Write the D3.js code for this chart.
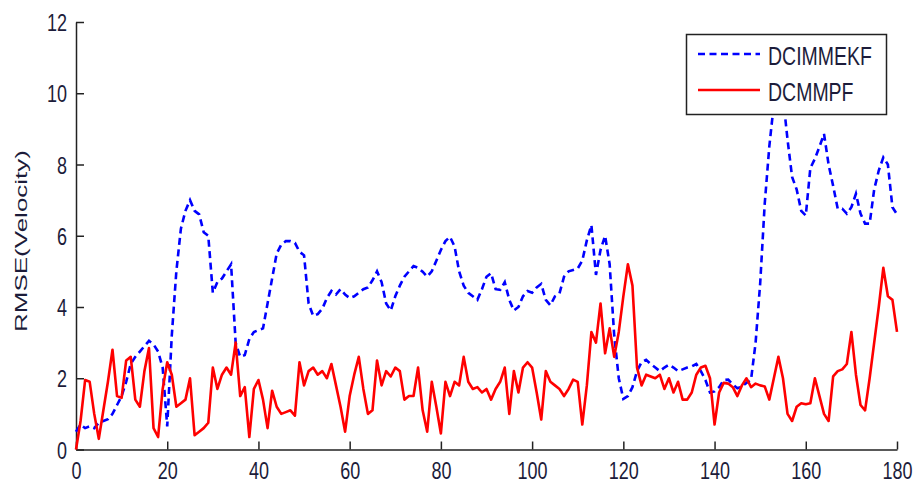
<!DOCTYPE html>
<html>
<head>
<meta charset="utf-8">
<script src="https://cdn.jsdelivr.net/npm/d3@7"></script>
<style>
  body { margin: 0; background: #fff; }
  .axis path, .axis line { stroke: #222; stroke-width: 1.5px; }
  .axis text { font-family: "Liberation Sans", Arial, sans-serif; font-size: 18px; fill: #1c1c3a; }
</style>
</head>
<body>
<div id="chart-container"></div>
<script>
// chart size, same as the window
const svgWidth = 916;
const svgHeight = 491;
// plot box edges
const plotLeft = 76, plotRight = 897, plotTop = 22, plotBottom = 449.5;

// series names, in legend order
const seriesNames = ["DCIMMEKF", "DCMMPF"];
const xTicks = [0, 20, 40, 60, 80, 100, 120, 140, 160, 180];
const yTicks = [0, 2, 4, 6, 8, 10, 12];

// time steps 0..180
const steps = d3.range(0, 181);

// RMSE of velocity, DCIMMEKF (blue dashed), one value per step
const dcimmekf = [
  0.5, 0.7, 0.6, 0.65, 0.6, 0.75, 0.8, 0.85, 1.0, 1.25, 1.5,
  1.9, 2.4, 2.6, 2.75, 2.9, 3.05, 2.95, 2.75, 2.3, 0.65,
  3.2, 5.0, 6.2, 6.7, 7.0, 6.7, 6.6, 6.1, 6.0, 4.4,
  4.7, 4.8, 5.0, 5.2, 3.0, 2.6, 2.65, 3.1, 3.3, 3.35,
  3.4, 4.1, 4.8, 5.5, 5.75, 5.85, 5.85, 5.8, 5.55, 5.45,
  4.1, 3.75, 3.8, 3.95, 4.25, 4.45, 4.35, 4.5, 4.35, 4.25,
  4.3, 4.4, 4.5, 4.55, 4.75, 5.0, 4.7, 4.1, 3.9, 4.3,
  4.6, 4.85, 5.0, 5.15, 5.1, 4.99, 4.85, 5.0, 5.3, 5.6,
  5.85, 5.97, 5.7, 5.0, 4.6, 4.4, 4.3, 4.2, 4.5, 4.85,
  4.95, 4.5, 4.48, 4.7, 4.2, 3.9, 4.0, 4.3, 4.45, 4.4,
  4.55, 4.65, 4.2, 4.05, 4.3, 4.38, 4.85, 5.0, 5.04, 5.08,
  5.3, 5.87, 6.3, 4.9, 5.6, 6.0, 5.2, 3.2, 2.0, 1.42,
  1.5, 1.75, 2.2, 2.45, 2.52, 2.4, 2.3, 2.2, 2.3, 2.38,
  2.3, 2.2, 2.25, 2.3, 2.33, 2.4, 2.2, 1.95, 1.6, 1.63,
  1.75, 1.95, 1.96, 1.82, 1.72, 1.77, 1.87, 1.96, 3.0, 4.66,
  6.9, 8.5, 9.7, 10.3, 9.9, 8.7, 7.65, 7.3, 6.7, 6.57,
  7.9, 8.16, 8.5, 8.86, 8.0, 7.4, 6.76, 6.76, 6.62, 6.8,
  7.18, 6.62, 6.34, 6.34, 7.3, 7.83, 8.2, 8.0, 6.8, 6.6
];

// RMSE of velocity, DCMMPF (red solid)
const dcmmpf = [
  0.0, 0.8, 1.95, 1.9, 1.0, 0.3, 1.1, 1.9, 2.8, 1.5, 1.45,
  2.5, 2.6, 1.4, 1.2, 2.2, 2.85, 0.6, 0.35, 1.7, 2.45,
  2.1, 1.2, 1.3, 1.4, 2.0, 0.4, 0.5, 0.6, 0.75, 2.3,
  1.7, 2.1, 2.3, 2.1, 3.0, 1.5, 1.75, 0.35, 1.7, 1.95,
  1.4, 0.6, 1.65, 1.2, 1.0, 1.05, 1.1, 0.95, 2.45, 1.8,
  2.2, 2.3, 2.1, 2.2, 2.0, 2.4, 1.8, 1.2, 0.5, 1.5,
  2.1, 2.6, 1.7, 1.0, 1.1, 2.5, 1.8, 2.2, 2.05, 2.3,
  2.2, 1.4, 1.5, 1.5, 2.3, 1.1, 0.5, 1.9, 1.2, 0.45,
  1.9, 1.5, 1.9, 1.8, 2.6, 1.9, 1.7, 1.75, 1.6, 1.7,
  1.4, 1.7, 1.9, 2.3, 1.0, 2.2, 1.6, 2.3, 2.45, 2.3,
  1.6, 0.84, 2.2, 1.9, 1.8, 1.7, 1.5, 1.7, 1.96, 1.9,
  0.7, 1.8, 3.3, 3.0, 4.1, 2.7, 3.4, 2.6, 3.3, 4.3,
  5.2, 4.6, 2.3, 1.8, 2.1, 2.05, 2.0, 2.1, 1.7, 2.0,
  1.6, 1.9, 1.4, 1.4, 1.6, 2.1, 2.3, 2.35, 2.0, 0.7,
  1.6, 1.87, 1.85, 1.75, 1.5, 1.8, 2.0, 1.75, 1.85, 1.8,
  1.77, 1.4, 2.0, 2.6, 2.0, 1.0, 0.8, 1.2, 1.3, 1.27,
  1.3, 2.0, 1.5, 1.0, 0.8, 2.05, 2.2, 2.25, 2.4, 3.3,
  2.1, 1.25, 1.1, 2.0, 3.0, 4.0, 5.1, 4.3, 4.2, 3.3
];

// the original picture is a bit stretched up and down, so text gets squashed the same way
const textStretch = 1.35;

const svg = d3.select("#chart-container")
  .append("svg")
  .attr("width", svgWidth)
  .attr("height", svgHeight);

const x = d3.scaleLinear().domain([0, 180]).range([plotLeft, plotRight]);
const y = d3.scaleLinear().domain([0, 12]).range([plotBottom, plotTop]);

// axes, ticks point inwards like matlab
const xAxis = svg.append("g")
  .attr("class", "axis axis-x")
  .attr("transform", `translate(0, ${plotBottom})`)
  .call(d3.axisBottom(x).tickValues(xTicks).tickSizeInner(-8).tickSizeOuter(0));

const yAxis = svg.append("g")
  .attr("class", "axis axis-y")
  .attr("transform", `translate(${plotLeft}, 0)`)
  .call(d3.axisLeft(y).tickValues(yTicks).tickSizeInner(-8).tickSizeOuter(0).tickPadding(9));

// move tick labels by hand so the stretch lands them in the right spot
xAxis.selectAll("text")
  .attr("dy", null)
  .attr("y", 29.5 / textStretch)
  .attr("transform", `scale(1, ${textStretch})`);

yAxis.selectAll("text")
  .attr("dy", null)
  .attr("y", 8.5 / textStretch)
  .attr("transform", `scale(1, ${textStretch})`);

// the lines, blue first so red sits on top
const line = d3.line()
  .x((d, i) => x(steps[i]))
  .y(d => y(d));

svg.append("path")
  .datum(dcimmekf)
  .attr("fill", "none")
  .attr("stroke", "#0000ff")
  .attr("stroke-width", 2.6)
  .attr("stroke-dasharray", "7,4.5")
  .attr("d", line);

svg.append("path")
  .datum(dcmmpf)
  .attr("fill", "none")
  .attr("stroke", "#ff0000")
  .attr("stroke-width", 2.6)
  .attr("stroke-linejoin", "round")
  .attr("d", line);

// y label, stretched along its length
svg.append("text")
  .text("RMSE(Velocity)")
  .attr("transform", "translate(27, 241) rotate(-90)")
  .attr("text-anchor", "middle")
  .attr("textLength", 182)
  .attr("lengthAdjust", "spacingAndGlyphs")
  .attr("font-family", "Liberation Sans, Arial, sans-serif")
  .attr("font-size", 17)
  .attr("fill", "#1c1c3a");

// legend box in the top right, white so it hides the blue peak
const legend = svg.append("g").attr("class", "legend");
legend.append("rect")
  .attr("x", 686.5)
  .attr("y", 34.5)
  .attr("width", 200)
  .attr("height", 80)
  .attr("fill", "#fff")
  .attr("stroke", "#222")
  .attr("stroke-width", 1.5);

const legendStyles = [
  { color: "#0000ff", dash: "7,4.5" },
  { color: "#ff0000", dash: null }
];

seriesNames.forEach(function (name, i) {
  const ly = 54 + i * 36;
  legend.append("line")
    .attr("x1", 698).attr("x2", 760)
    .attr("y1", ly).attr("y2", ly)
    .attr("stroke", legendStyles[i].color)
    .attr("stroke-width", 2.6)
    .attr("stroke-dasharray", legendStyles[i].dash);
  legend.append("text")
    .text(name)
    .attr("x", 768)
    .attr("y", (ly + 11) / textStretch)
    .attr("transform", `scale(1, ${textStretch})`)
    .attr("font-family", "Liberation Sans, Arial, sans-serif")
    .attr("font-size", 19.5)
    .attr("fill", "#1c1c3a");
});
</script>
</body>
</html>
